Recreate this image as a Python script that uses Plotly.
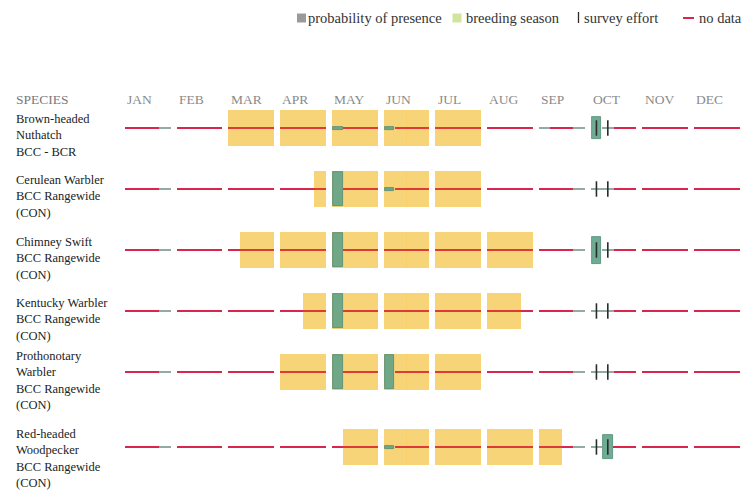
import plotly.graph_objects as go

# ---- data -------------------------------------------------------------
months = ["JAN", "FEB", "MAR", "APR", "MAY", "JUN",
          "JUL", "AUG", "SEP", "OCT", "NOV", "DEC"]

species = [
    "Brown-headed<br>Nuthatch<br>BCC - BCR",
    "Cerulean Warbler<br>BCC Rangewide<br>(CON)",
    "Chimney Swift<br>BCC Rangewide<br>(CON)",
    "Kentucky Warbler<br>BCC Rangewide<br>(CON)",
    "Prothonotary<br>Warbler<br>BCC Rangewide<br>(CON)",
    "Red-headed<br>Woodpecker<br>BCC Rangewide<br>(CON)",
]

# breeding season per species: (first week, last week), weeks numbered 0..47
breeding = [(8, 27), (15, 27), (9, 31), (14, 30), (12, 27), (17, 33)]

# weekly probability of presence (0..1) where birds were detected
presence = [
    {16: 0.08, 20: 0.08, 36: 0.60},
    {16: 0.95, 20: 0.08},
    {16: 0.95, 36: 0.75},
    {16: 0.95},
    {16: 0.95, 20: 0.92},
    {20: 0.08, 37: 0.65},
]

# weeks surveyed without detections (all other weeks: no data)
surveyed_zero = [
    [3, 32, 35, 37],
    [3, 35, 36, 37],
    [3, 35, 37],
    [3, 35, 36, 37],
    [3, 35, 36, 37],
    [3, 35, 36],
]

# weeks with survey effort ticks
effort = [[36, 37], [36, 37], [36, 37], [36, 37], [36, 37], [36, 37]]

legend_items = ["probability of presence", "breeding season",
                "survey effort", "no data"]

# ---- layout constants (pixel-like axis units) --------------------------
W, H = 743, 491
X0 = 125            # left edge of January
PERIOD = 51.75      # month pitch
WEEK = 11.375       # week width
BOX = 36            # full bar height
ROW_Y = [128, 189, 250, 311, 372, 447]
LABEL_TOP = [110, 171, 233, 294, 347, 425]

SERIF = "Liberation Serif"
YELLOW = "rgba(247,206,102,0.88)"
RED = "#d9264f"
RED_ON_YELLOW = "#de3a36"
GRAY_LINE = "#93aba3"
TEAL = "rgba(96,162,136,0.9)"
TEAL_EDGE = "#4f8a76"


def week_x(w):
    m, j = divmod(w, 4)
    return X0 + m * PERIOD + j * WEEK + WEEK / 2


fig = go.Figure()


def add_bars(xs, bases, heights, color, width, line_color=None, line_width=0):
    fig.add_trace(go.Bar(
        x=xs, y=heights, base=bases, width=width,
        marker=dict(color=color,
                    line=dict(color=line_color or color, width=line_width)),
        hoverinfo="skip", showlegend=False,
    ))


# breeding season boxes
bx, bb, bh = [], [], []
for r, (a, b) in enumerate(breeding):
    for w in range(a, b + 1):
        bx.append(week_x(w)); bb.append(ROW_Y[r] - BOX / 2); bh.append(BOX)
add_bars(bx, bb, bh, YELLOW, WEEK + 0.05)

# weekly lines: no data (red) / surveyed with no detections (gray)
groups = {"red": ([], []), "red_y": ([], []), "gray": ([], [])}
for r in range(len(species)):
    a, b = breeding[r]
    for w in range(48):
        if w in presence[r]:
            continue
        if w in surveyed_zero[r]:
            key = "gray"
        elif a <= w <= b:
            key = "red_y"
        else:
            key = "red"
        groups[key][0].append(week_x(w))
        groups[key][1].append(ROW_Y[r] - 1)
for key, color in (("red", RED), ("red_y", RED_ON_YELLOW), ("gray", GRAY_LINE)):
    xs, bases = groups[key]
    add_bars(xs, bases, [2] * len(xs), color, WEEK + 0.05)

# probability of presence bars
px, pb, ph = [], [], []
for r, weeks in enumerate(presence):
    for w, p in weeks.items():
        h = max(p * BOX, 3)
        px.append(week_x(w)); pb.append(ROW_Y[r] - h / 2); ph.append(h)
add_bars(px, pb, ph, TEAL, WEEK - 1.5, TEAL_EDGE, 0.8)

# survey effort ticks
ex, ey = [], []
for r, weeks in enumerate(effort):
    for w in weeks:
        ex.append(week_x(w)); ey.append(ROW_Y[r])
fig.add_trace(go.Scatter(
    x=ex, y=ey, mode="markers",
    marker=dict(symbol="line-ns", size=11, line=dict(color="#2b2b2b", width=1.6)),
    hoverinfo="skip", showlegend=False,
))

# ---- legend row -------------------------------------------------------
LEG_Y = 18
fig.add_trace(go.Scatter(
    x=[301.5, 457], y=[LEG_Y, LEG_Y], mode="markers",
    marker=dict(symbol="square", size=9, color=["#9a9a9a", "#d2e59c"]),
    hoverinfo="skip", showlegend=False,
))
fig.add_trace(go.Scatter(
    x=[578.5, 578.5], y=[LEG_Y - 6, LEG_Y + 5], mode="lines",
    line=dict(color="#2b2b2b", width=1.3),
    hoverinfo="skip", showlegend=False,
))
fig.add_trace(go.Scatter(
    x=[683, 694], y=[LEG_Y, LEG_Y], mode="lines",
    line=dict(color=RED, width=2),
    hoverinfo="skip", showlegend=False,
))

# ---- text -------------------------------------------------------------
ann = []
ann.append(dict(x=14, y=99, text="SPECIES", xanchor="left", yanchor="middle",
                font=dict(family=SERIF, size=13.5, color="#7a7a7a")))
for m, name in enumerate(months):
    ann.append(dict(x=X0 + m * PERIOD, y=99, text=name, xanchor="left",
                    yanchor="middle",
                    font=dict(family=SERIF, size=13.5, color="#8a8a8a")))
for r, name in enumerate(species):
    ann.append(dict(x=14, y=LABEL_TOP[r], text=name, xanchor="left",
                    yanchor="top", align="left",
                    font=dict(family=SERIF, size=12.5, color="#222222")))

for label, x in zip(legend_items, [306, 464, 582, 697]):
    ann.append(dict(x=x, y=LEG_Y, text=label, xanchor="left",
                    yanchor="middle",
                    font=dict(family=SERIF, size=14.5, color="#333333")))

for a in ann:
    a.update(xref="x", yref="y", showarrow=False)

fig.update_layout(
    width=W, height=H,
    margin=dict(l=0, r=0, t=0, b=0),
    paper_bgcolor="white", plot_bgcolor="white",
    barmode="overlay", bargap=0,
    xaxis=dict(range=[0, W], visible=False, fixedrange=True),
    yaxis=dict(range=[H, 0], visible=False, fixedrange=True),
    annotations=ann,
    showlegend=False,
)

fig.write_html("out.html")
